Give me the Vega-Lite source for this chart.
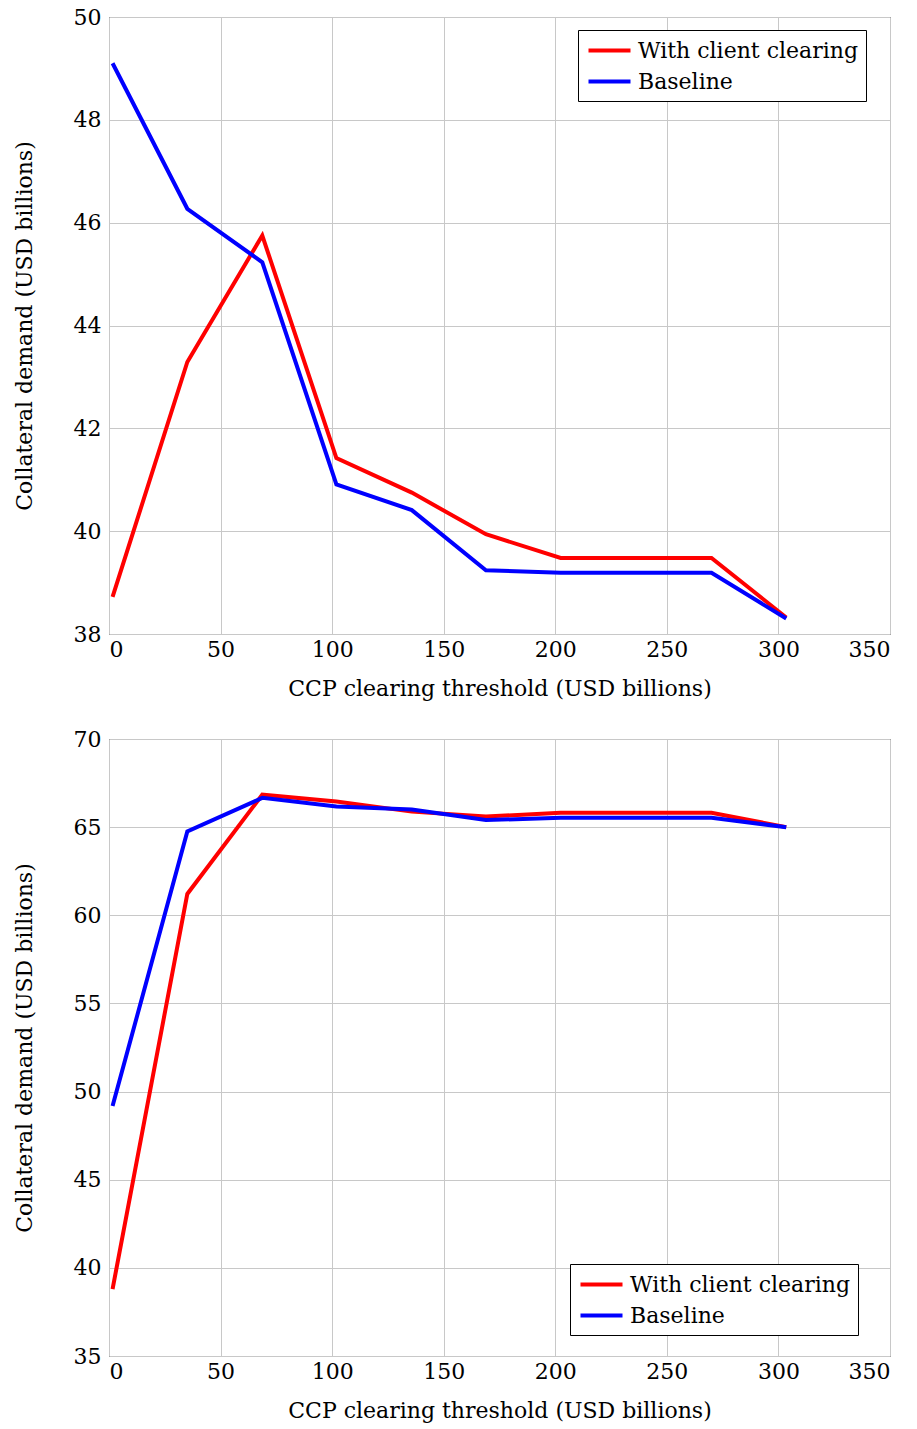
{
  "$schema": "https://vega.github.io/schema/vega-lite/v6.json",
  "padding": {"left": 12, "top": 5, "right": 5, "bottom": 5},
  "config": {
    "font": "DejaVu Serif",
    "view": {"stroke": "black", "strokeWidth": 1},
    "axis": {
      "domain": false,
      "ticks": false,
      "grid": true,
      "gridColor": "#c8c8c8",
      "gridWidth": 1,
      "labelFont": "DejaVu Serif",
      "labelFontSize": 22,
      "labelColor": "black",
      "titleFont": "DejaVu Serif",
      "titleFontSize": 22,
      "titleFontWeight": "normal",
      "titleColor": "black"
    },
    "legend": {
      "labelFont": "DejaVu Serif",
      "labelFontSize": 22,
      "labelColor": "black",
      "labelLimit": 0,
      "strokeColor": "black",
      "fillColor": "white",
      "padding": 8,
      "symbolType": "M-2,0H2",
      "symbolStrokeWidth": 4,
      "symbolSize": 441,
      "symbolOffset": 11,
      "rowPadding": 7,
      "labelOffset": 16,
      "cornerRadius": 0
    }
  },
  "resolve": {"legend": {"color": "independent"}, "scale": {"y": "independent"}},
  "spacing": 27,
  "vconcat": [
    {
      "width": 781,
      "height": 617,
      "data": {"values": [
        {"x": 1.6, "y": 38.72, "series": "With client clearing"},
        {"x": 35.1, "y": 43.29, "series": "With client clearing"},
        {"x": 68.7, "y": 45.75, "series": "With client clearing"},
        {"x": 101.9, "y": 41.42, "series": "With client clearing"},
        {"x": 135.7, "y": 40.75, "series": "With client clearing"},
        {"x": 168.9, "y": 39.94, "series": "With client clearing"},
        {"x": 202.4, "y": 39.48, "series": "With client clearing"},
        {"x": 270.0, "y": 39.48, "series": "With client clearing"},
        {"x": 303.5, "y": 38.32, "series": "With client clearing"},
        {"x": 1.6, "y": 49.1, "series": "Baseline"},
        {"x": 35.1, "y": 46.27, "series": "Baseline"},
        {"x": 68.7, "y": 45.23, "series": "Baseline"},
        {"x": 101.9, "y": 40.91, "series": "Baseline"},
        {"x": 135.7, "y": 40.41, "series": "Baseline"},
        {"x": 168.9, "y": 39.24, "series": "Baseline"},
        {"x": 202.4, "y": 39.19, "series": "Baseline"},
        {"x": 270.0, "y": 39.19, "series": "Baseline"},
        {"x": 303.5, "y": 38.3, "series": "Baseline"}
      ]},
      "mark": {"type": "line", "strokeWidth": 4, "clip": true},
      "encoding": {
        "x": {"field": "x", "type": "quantitative", "scale": {"domain": [0, 350], "nice": false},
              "axis": {"title": "CCP clearing threshold (USD billions)", "values": [0, 50, 100, 150, 200, 250, 300, 350], "labelPadding": 5, "titlePadding": 18}},
        "y": {"field": "y", "type": "quantitative", "scale": {"domain": [38, 50], "nice": false, "zero": false},
              "axis": {"title": "Collateral demand (USD billions)", "values": [38, 40, 42, 44, 46, 48, 50], "labelPadding": 8, "titlePadding": 37}},
        "color": {"field": "series", "type": "nominal",
                  "scale": {"domain": ["With client clearing", "Baseline"], "range": ["#ff0000", "#0000ff"]},
                  "legend": {"title": null, "orient": "none", "legendX": 469, "legendY": 13}},
        "order": {"field": "x", "type": "quantitative"}
      }
    },
    {
      "width": 781,
      "height": 617,
      "data": {"values": [
        {"x": 1.6, "y": 38.8, "series": "With client clearing"},
        {"x": 35.1, "y": 61.21, "series": "With client clearing"},
        {"x": 68.7, "y": 66.84, "series": "With client clearing"},
        {"x": 101.9, "y": 66.45, "series": "With client clearing"},
        {"x": 135.7, "y": 65.88, "series": "With client clearing"},
        {"x": 168.9, "y": 65.6, "series": "With client clearing"},
        {"x": 202.4, "y": 65.81, "series": "With client clearing"},
        {"x": 270.0, "y": 65.81, "series": "With client clearing"},
        {"x": 303.5, "y": 65.0, "series": "With client clearing"},
        {"x": 1.6, "y": 49.18, "series": "Baseline"},
        {"x": 35.1, "y": 64.75, "series": "Baseline"},
        {"x": 68.7, "y": 66.66, "series": "Baseline"},
        {"x": 101.9, "y": 66.17, "series": "Baseline"},
        {"x": 135.7, "y": 66.0, "series": "Baseline"},
        {"x": 168.9, "y": 65.4, "series": "Baseline"},
        {"x": 202.4, "y": 65.53, "series": "Baseline"},
        {"x": 270.0, "y": 65.53, "series": "Baseline"},
        {"x": 303.5, "y": 65.0, "series": "Baseline"}
      ]},
      "mark": {"type": "line", "strokeWidth": 4, "clip": true},
      "encoding": {
        "x": {"field": "x", "type": "quantitative", "scale": {"domain": [0, 350], "nice": false},
              "axis": {"title": "CCP clearing threshold (USD billions)", "values": [0, 50, 100, 150, 200, 250, 300, 350], "labelPadding": 5, "titlePadding": 18}},
        "y": {"field": "y", "type": "quantitative", "scale": {"domain": [35, 70], "nice": false, "zero": false},
              "axis": {"title": "Collateral demand (USD billions)", "values": [35, 40, 45, 50, 55, 60, 65, 70], "labelPadding": 8, "titlePadding": 37}},
        "color": {"field": "series", "type": "nominal",
                  "scale": {"domain": ["With client clearing", "Baseline"], "range": ["#ff0000", "#0000ff"]},
                  "legend": {"title": null, "orient": "none", "legendX": 461, "legendY": 525}},
        "order": {"field": "x", "type": "quantitative"}
      }
    }
  ]
}
